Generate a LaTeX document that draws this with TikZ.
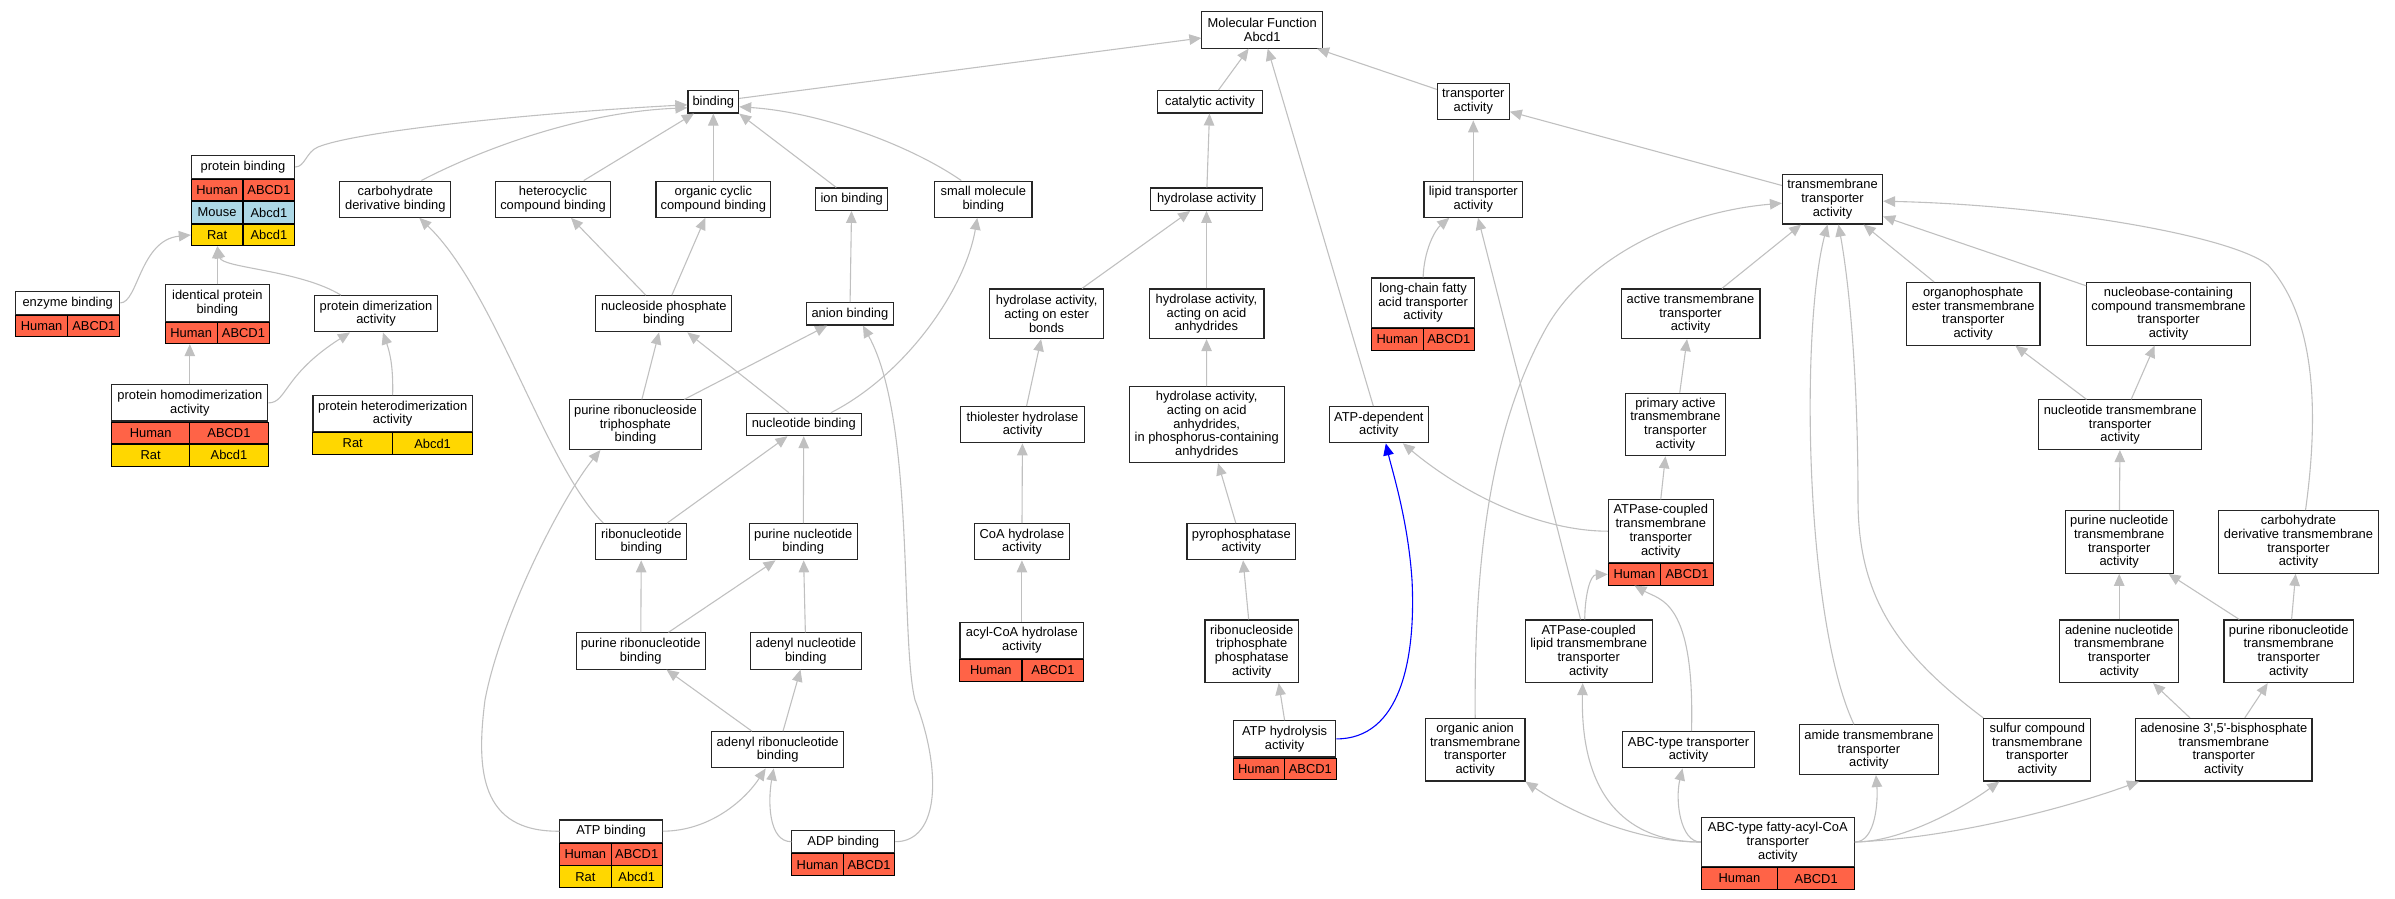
\documentclass[tikz,border=0pt]{standalone}
\usepackage{fontspec}
\setmainfont{Liberation Sans}[Ligatures=TeXOff]
\usepackage{tikz}
\usetikzlibrary{arrows.meta,positioning}
\definecolor{gvgray}{RGB}{192,192,192}
\definecolor{tomato}{RGB}{255,99,71}
\definecolor{lightblue}{RGB}{173,216,230}
\definecolor{gold}{RGB}{255,215,0}

\begin{document}
\begin{tikzpicture}[->,>={Triangle[length=12pt,width=10.5pt]},x=1pt,y=-1pt,
                    line width=1.1pt]
  \tikzstyle{term}=[draw=black!85,fill=white,text=black,align=center,inner sep=1pt,
                    font=\fontsize{12.9}{13.7}\selectfont]
  \tikzstyle{oneline}=[minimum height=22.4]
  \tikzstyle{twoline}=[minimum height=36.2]
  \tikzstyle{threeline}=[minimum height=49.6]
  \tikzstyle{fourline}=[minimum height=62.6]
  \tikzstyle{fiveline}=[minimum height=76]
  \tikzstyle{cell}=[draw=black,line width=0.9pt,text=black,inner sep=0pt,
                    minimum height=21.6,font=\fontsize{12.9}{13.7}\selectfont]
  \tikzstyle{human}=[cell,fill=tomato]
  \tikzstyle{mouse}=[cell,fill=lightblue]
  \tikzstyle{rat}=[cell,fill=gold]
  \tikzstyle{isa}=[color=gvgray]

  \useasboundingbox (0,0) rectangle (2395,899);

  % rank 0 and 1
  \node[term,twoline,minimum width=120.6] (mf)    at (1262.2,30)   {Molecular Function\\Abcd1};
  \node[term,oneline,minimum width=50.7]  (bind)  at (713.3,101.8) {binding};
  \node[term,oneline,minimum width=105.1] (cat)   at (1209.9,101.8) {catalytic activity};
  \node[term,twoline,minimum width=71.9]  (trans) at (1473.3,101.8) {transporter\\activity};

  % rank 2
  \node[term,oneline,minimum width=103.3] (pb)    at (243,167)     {protein binding};
  \node[human,minimum width=51.65] (pbHa) [below right=0pt and 0pt of pb.south west] {Human};
  \node[human,minimum width=51.65] (pbHb) [below left=0pt and 0pt of pb.south east]  {ABCD1};
  \node[mouse,minimum width=51.65] (pbMa) [below=0pt of pbHa] {Mouse};
  \node[mouse,minimum width=51.65] (pbMb) [below=0pt of pbHb] {Abcd1};
  \node[rat,minimum width=51.65]   (pbRa) [below=0pt of pbMa] {Rat};
  \node[rat,minimum width=51.65]   (pbRb) [below=0pt of pbMb] {Abcd1};
  \node[term,twoline,minimum width=111]   (carb)  at (395.3,199.2) {carbohydrate\\derivative binding};
  \node[term,twoline,minimum width=114.8] (het)   at (553,199.2)   {heterocyclic\\compound binding};
  \node[term,twoline,minimum width=114.7] (occ)   at (713.3,199.2) {organic cyclic\\compound binding};
  \node[term,oneline,minimum width=72]    (ion)   at (851.7,199.2) {ion binding};
  \node[term,twoline,minimum width=97.3]  (smb)   at (983.3,199.2) {small molecule\\binding};
  \node[term,oneline,minimum width=111.8] (hyd)   at (1206.5,199.2) {hydrolase activity};
  \node[term,twoline,minimum width=98.7]  (lipid) at (1473.3,199.2) {lipid transporter\\activity};
  \node[term,threeline,minimum width=100.1] (tta) at (1832.5,199.2) {transmembrane\\transporter\\activity};

  % rank 3
  \node[term,oneline,minimum width=104.1] (eb)    at (67.75,302.9) {enzyme binding};
  \node[human,minimum width=52.05] (ebHa) [below right=0pt and 0pt of eb.south west] {Human};
  \node[human,minimum width=52.05] (ebHb) [below left=0pt and 0pt of eb.south east]  {ABCD1};
  \node[term,twoline,minimum width=104.1] (ipb)   at (217.35,303)  {identical protein\\binding};
  \node[human,minimum width=52.05] (ipbHa) [below right=0pt and 0pt of ipb.south west] {Human};
  \node[human,minimum width=52.05] (ipbHb) [below left=0pt and 0pt of ipb.south east]  {ABCD1};
  \node[term,twoline,minimum width=122.8] (pda)   at (376,313.8)   {protein dimerization\\activity};
  \node[term,twoline,minimum width=136]   (nps)   at (663.8,313.8) {nucleoside phosphate\\binding};
  \node[term,oneline,minimum width=86.6]  (anion) at (849.9,313.8) {anion binding};
  \node[term,threeline,minimum width=114.6] (hest) at (1046.6,313.8) {hydrolase activity,\\acting on ester\\bonds};
  \node[term,threeline,minimum width=114.9] (hanh) at (1206.5,313.8) {hydrolase activity,\\acting on acid\\anhydrides};
  \node[term,threeline,minimum width=102.6] (lcfa) at (1423.1,302.8) {long-chain fatty\\acid transporter\\activity};
  \node[human,minimum width=51.3] (lcfaHa) [below right=0pt and 0pt of lcfa.south west] {Human};
  \node[human,minimum width=51.3] (lcfaHb) [below left=0pt and 0pt of lcfa.south east]  {ABCD1};
  \node[term,threeline,minimum width=138.9] (atm)  at (1690.5,313.8) {active transmembrane\\transporter\\activity};
  \node[term,fourline,minimum width=133.5]  (org)  at (1973.2,313.8) {organophosphate\\ester transmembrane\\transporter\\activity};
  \node[term,fourline,minimum width=163.8]  (nbc)  at (2168.5,313.8) {nucleobase-containing\\compound transmembrane\\transporter\\activity};

  % rank 4
  \node[term,twoline,minimum width=156.2] (hda)   at (189.8,402.9) {protein homodimerization\\activity};
  \node[human,minimum width=78.1] (hdaHa) [below right=0pt and 0pt of hda.south west] {Human};
  \node[human,minimum width=78.1] (hdaHb) [below left=0pt and 0pt of hda.south east]  {ABCD1};
  \node[rat,minimum width=78.1]   (hdaRa) [below=0pt of hdaHa] {Rat};
  \node[rat,minimum width=78.1]   (hdaRb) [below=0pt of hdaHb] {Abcd1};
  \node[term,twoline,minimum width=159.3] (hta)   at (392.65,413.7) {protein heterodimerization\\activity};
  \node[rat,minimum width=79.65]  (htaRa) [below right=0pt and 0pt of hta.south west] {Rat};
  \node[rat,minimum width=79.65]  (htaRb) [below left=0pt and 0pt of hta.south east]  {Abcd1};
  \node[term,threeline,minimum width=131.9] (prtb) at (635.4,424.7) {purine ribonucleoside\\triphosphate\\binding};
  \node[term,oneline,minimum width=114.6] (nb)    at (803.8,424.5) {nucleotide binding};
  \node[term,twoline,minimum width=123.3] (thio)  at (1022.5,424.7) {thiolester hydrolase\\activity};
  \node[term,fiveline,minimum width=155]  (hphos) at (1206.7,424.7) {hydrolase activity,\\acting on acid\\anhydrides,\\in phosphorus-containing\\anhydrides};
  \node[term,twoline,minimum width=98.7]  (atpdep) at (1378.8,424.7) {ATP-dependent\\activity};
  \node[term,fourline,minimum width=100.3] (pat)  at (1675.4,424.5) {primary active\\transmembrane\\transporter\\activity};
  \node[term,threeline,minimum width=162.6] (ntm) at (2120.1,424.7) {nucleotide transmembrane\\transporter\\activity};

  % rank 5
  \node[term,twoline,minimum width=91]    (rnb)   at (641.3,541.7) {ribonucleotide\\binding};
  \node[term,twoline,minimum width=108]   (pnb)   at (803.2,541.7) {purine nucleotide\\binding};
  \node[term,twoline,minimum width=95.3]  (coa)   at (1021.9,541.7) {CoA hydrolase\\activity};
  \node[term,twoline,minimum width=108.7] (pyro)  at (1241.3,541.7) {pyrophosphatase\\activity};
  \node[term,fourline,minimum width=104.9] (atpc) at (1660.75,531.2) {ATPase-coupled\\transmembrane\\transporter\\activity};
  \node[human,minimum width=52.45] (atpcHa) [below right=0pt and 0pt of atpc.south west] {Human};
  \node[human,minimum width=52.45] (atpcHb) [below left=0pt and 0pt of atpc.south east]  {ABCD1};
  \node[term,fourline,minimum width=107.9] (pntm) at (2119.2,542)   {purine nucleotide\\transmembrane\\transporter\\activity};
  \node[term,fourline,minimum width=160.3] (cdtm) at (2298.5,542)   {carbohydrate\\derivative transmembrane\\transporter\\activity};

  % rank 6
  \node[term,twoline,minimum width=129.3] (prb)   at (640.7,651)   {purine ribonucleotide\\binding};
  \node[term,twoline,minimum width=110.7] (anb)   at (805.8,651)   {adenyl nucleotide\\binding};
  \node[term,twoline,minimum width=123.8] (acyl)  at (1021.9,640.5) {acyl-CoA hydrolase\\activity};
  \node[human,minimum width=61.9] (acylHa) [below right=0pt and 0pt of acyl.south west] {Human};
  \node[human,minimum width=61.9] (acylHb) [below left=0pt and 0pt of acyl.south east]  {ABCD1};
  \node[term,fourline,minimum width=93.4]  (rtpp)  at (1251.7,651.3) {ribonucleoside\\triphosphate\\phosphatase\\activity};
  \node[term,fourline,minimum width=126.7] (atpcl) at (1588.7,651.3) {ATPase-coupled\\lipid transmembrane\\transporter\\activity};
  \node[term,fourline,minimum width=118.7] (adntm) at (2119.2,651.3) {adenine nucleotide\\transmembrane\\transporter\\activity};
  \node[term,fourline,minimum width=129.4] (prtm)  at (2288.7,651.3) {purine ribonucleotide\\transmembrane\\transporter\\activity};

  % rank 7
  \node[term,twoline,minimum width=132]   (arb)   at (777.7,749.8) {adenyl ribonucleotide\\binding};
  \node[term,twoline,minimum width=102.6] (atph)  at (1284.6,738.9) {ATP hydrolysis\\activity};
  \node[human,minimum width=51.3] (atphHa) [below right=0pt and 0pt of atph.south west] {Human};
  \node[human,minimum width=51.3] (atphHb) [below left=0pt and 0pt of atph.south east]  {ABCD1};
  \node[term,fourline,minimum width=99.5]  (oa)    at (1475.2,749.7) {organic anion\\transmembrane\\transporter\\activity};
  \node[term,twoline,minimum width=132]    (abc)   at (1688.5,749.8) {ABC-type transporter\\activity};
  \node[term,threeline,minimum width=139.3] (amide) at (1868.9,749.7) {amide transmembrane\\transporter\\activity};
  \node[term,fourline,minimum width=107.1] (sulf)  at (2037.3,749.7) {sulfur compound\\transmembrane\\transporter\\activity};
  \node[term,fourline,minimum width=176.4] (aden)  at (2223.8,749.7) {adenosine 3',5'-bisphosphate\\transmembrane\\transporter\\activity};

  % rank 8
  \node[term,oneline,minimum width=102.3] (atpb)  at (611.05,831.2) {ATP binding};
  \node[human,minimum width=51.15] (atpbHa) [below right=0pt and 0pt of atpb.south west] {Human};
  \node[human,minimum width=51.15] (atpbHb) [below left=0pt and 0pt of atpb.south east]  {ABCD1};
  \node[rat,minimum width=51.15]   (atpbRa) [below=0pt of atpbHa] {Rat};
  \node[rat,minimum width=51.15]   (atpbRb) [below=0pt of atpbHb] {Abcd1};
  \node[term,oneline,minimum width=102.8] (adpb)  at (843.3,841.7) {ADP binding};
  \node[human,minimum width=51.4] (adpbHa) [below right=0pt and 0pt of adpb.south west] {Human};
  \node[human,minimum width=51.4] (adpbHb) [below left=0pt and 0pt of adpb.south east]  {ABCD1};
  \node[term,threeline,minimum width=153] (abcf)  at (1777.8,842) {ABC-type fatty-acyl-CoA\\transporter\\activity};
  \node[human,minimum width=76.5] (abcfHa) [below right=0pt and 0pt of abcf.south west] {Human};
  \node[human,minimum width=76.5] (abcfHb) [below left=0pt and 0pt of abcf.south east]  {ABCD1};

  % straight is_a edges
  \path[isa] (bind) edge ([yshift=-8]mf.west)
             (cat) edge (mf)
             (trans) edge (mf)
             (atpdep) edge (mf)
             (het) edge (bind)
             (occ) edge (bind)
             (ion) edge (bind.south east)
             (hyd) edge (cat)
             (lipid) edge (trans)
             (tta) edge (trans)
             (ipb) edge (ipb.north |- pbRa.south)
             (hda.north) edge (hda.north |- ipbHa.south)
             (hta.north) edge[bend right=10] ([xshift=7]pda.south)
             (nps) edge (het)
             (nps) edge (occ)
             (anion) edge (ion)
             (prtb) edge (nps)
             (prtb) edge (anion)
             (nb) edge (nps)
             (rnb) edge (nb)
             (pnb) edge (nb)
             (prb) edge (rnb)
             (prb) edge (pnb)
             (anb) edge (pnb)
             (arb) edge (prb)
             (arb) edge (anb)
             (hest) edge (hyd)
             (hanh) edge (hyd)
             (thio) edge (hest)
             (hphos) edge (hanh)
             (coa) edge (thio)
             (acyl) edge (coa)
             (pyro) edge (hphos)
             (rtpp) edge (pyro)
             (atph.north) edge ([xshift=27]rtpp.south)
             (atpcl) edge (lipid)
             (atm) edge (tta)
             (org) edge (tta)
             (nbc) edge (tta)
             (pat) edge (atm)
             (atpc.north) edge ([xshift=-10]pat.south)
             (ntm) edge (org)
             (ntm) edge (nbc)
             (pntm) edge (ntm)
             (adntm) edge (pntm)
             (prtm) edge (pntm)
             (prtm) edge (cdtm)
             (aden) edge (adntm)
             (aden) edge (prtm);

  % curved is_a edges
  \draw[isa] (pb.east) .. controls (305,167) and (306,152) .. (318,147)
             .. controls (360,130) and (550,112) .. ([yshift=-3]bind.west);
  \draw[isa] ([xshift=26]carb.north) .. controls (480,150) and (580,112) .. ([yshift=-6]bind.west);
  \draw[isa] ([xshift=-22]smb.north) .. controls (910,145) and (820,112) .. ([yshift=-5]bind.east);
  \draw[isa] (eb.east) .. controls (138,302.9) and (140,240) .. (pbRa.west);
  \draw[isa] ([xshift=-35]pda.north) .. controls (300,270) and (222,268) .. (ipb.north |- pbRa.south);
  \draw[isa] (hda.east) .. controls (287,402.9) and (283,375) .. ([xshift=-26]pda.south);
  \draw[isa] ([xshift=27]nb.north) .. controls (905,375) and (965,290) .. ([xshift=-6]smb.south);
  \draw[isa] ([xshift=-38]rnb.north) .. controls (545,465) and (495,290) .. ([xshift=24]carb.south);
  \draw[isa] (atpb.east) .. controls (710,831) and (745,800) .. ([xshift=-12]arb.south);
  \draw[isa] (atpb.west) .. controls (480,832) and (476,770) .. (485,700)
             .. controls (500,620) and (560,500) .. ([xshift=-35]prtb.south);
  \draw[isa] (adpb.west) .. controls (768,841.7) and (768,800) .. ([xshift=-4]arb.south);
  \draw[isa] (adpb.east) .. controls (940,841.7) and (942,770) .. (915,700)
             .. controls (900,640) and (915,420) .. ([xshift=13]anion.south);
  \draw[isa] (lcfa.north) .. controls (1424,250) and (1435,230) .. ([xshift=-24]lipid.south);
  \draw[isa] (oa.north) .. controls (1474,560) and (1490,430) .. (1545,330)
             .. controls (1585,257) and (1680,212) .. ([yshift=-4]tta.west);
  \draw[isa] ([xshift=-15]amide.north) .. controls (1805,620) and (1800,330) .. ([xshift=-5]tta.south);
  \draw[isa] (sulf.north west) .. controls (1900,655) and (1858,600) .. (1858,500)
             .. controls (1858,400) and (1852,300) .. ([xshift=6]tta.south);
  \draw[isa] ([xshift=7]cdtm.north) .. controls (2318,420) and (2318,320) .. (2268,265)
             .. controls (2230,235) and (2050,205) .. ([yshift=-2]tta.east);
  \draw[isa] (atpc.west) .. controls (1540,531) and (1465,495) .. ([xshift=24]atpdep.south);
  \draw[isa] ([xshift=-4]atpcl.north) .. controls (1585,595) and (1590,575) .. (atpcHa.west);
  \draw[isa] ([xshift=3]abc.north) .. controls (1695,600) and (1660,600) .. (atpcHa.south);
  \draw[isa] (abcf.west) .. controls (1640,842) and (1575,815) .. (oa.south east);
  \draw[isa] (abcf.west) .. controls (1630,842) and (1580,800) .. ([xshift=-6]atpcl.south);
  \draw[isa] (abcf.west) .. controls (1680,842) and (1675,800) .. ([xshift=-6]abc.south);
  \draw[isa] (abcf.east) .. controls (1876,842) and (1878,800) .. ([xshift=7]amide.south);
  \draw[isa] (abcf.east) .. controls (1900,842) and (1960,810) .. ([xshift=-38]sulf.south);
  \draw[isa] (abcf.east) .. controls (1950,838) and (2060,810) .. ([xshift=4]aden.south west);
  % the one blue edge
  \draw[isa,blue] (atph.east) .. controls (1400,738.9) and (1416,660) .. (1412,580)
             .. controls (1408,520) and (1392,470) .. ([xshift=7]atpdep.south);
\end{tikzpicture}
\end{document}
